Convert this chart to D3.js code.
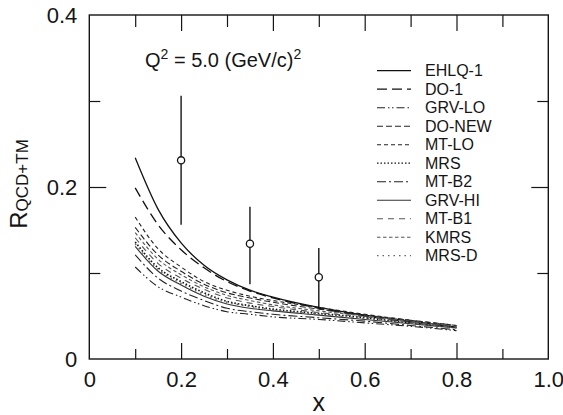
<!DOCTYPE html>
<html>
<head>
<meta charset="utf-8">
<script src="https://cdn.jsdelivr.net/npm/d3@7"></script>
<style>
  body { margin: 0; background: #fff; }
  svg { display: block; font-family: "Liberation Sans", Arial, Helvetica, sans-serif; }
</style>
</head>
<body>
<svg id="chart" width="563" height="415"></svg>
<script>
// curve grid (x) shared by every model curve
var xs = [0.1, 0.15, 0.2, 0.25, 0.3, 0.35, 0.4, 0.5, 0.6, 0.7, 0.8];

// model curves
var ehlq1  = [0.234, 0.174, 0.135, 0.109, 0.092, 0.080, 0.072, 0.060, 0.051, 0.044, 0.037];
var do1    = [0.199, 0.156, 0.127, 0.106, 0.090, 0.079, 0.071, 0.059, 0.050, 0.043, 0.037];
var grvLo  = [0.107, 0.084, 0.072, 0.062, 0.055, 0.052, 0.049, 0.046, 0.042, 0.038, 0.033];
var doNew  = [0.153, 0.121, 0.102, 0.087, 0.077, 0.071, 0.066, 0.058, 0.051, 0.045, 0.039];
var mtLo   = [0.165, 0.128, 0.107, 0.090, 0.080, 0.073, 0.068, 0.060, 0.052, 0.045, 0.039];
var mrs    = [0.136, 0.106, 0.090, 0.077, 0.067, 0.062, 0.058, 0.053, 0.048, 0.042, 0.037];
var mtB2   = [0.121, 0.094, 0.079, 0.068, 0.059, 0.055, 0.052, 0.048, 0.044, 0.039, 0.034];
var grvHi  = [0.131, 0.102, 0.086, 0.073, 0.064, 0.059, 0.056, 0.051, 0.046, 0.041, 0.036];
var mtB1   = [0.141, 0.111, 0.094, 0.081, 0.071, 0.065, 0.061, 0.054, 0.049, 0.043, 0.037];
var kmrs   = [0.147, 0.116, 0.098, 0.084, 0.074, 0.068, 0.063, 0.056, 0.050, 0.044, 0.038];
var mrsD   = [0.134, 0.104, 0.088, 0.075, 0.066, 0.061, 0.057, 0.052, 0.047, 0.042, 0.036];

var names = ["EHLQ-1", "DO-1", "GRV-LO", "DO-NEW", "MT-LO", "MRS", "MT-B2", "GRV-HI", "MT-B1", "KMRS", "MRS-D"];
var values = [ehlq1, do1, grvLo, doNew, mtLo, mrs, mtB2, grvHi, mtB1, kmrs, mrsD];

// measured points with error bars
var pointX  = [0.2, 0.35, 0.5];
var pointY  = [0.231, 0.134, 0.095];
var errLow  = [0.156, 0.087, 0.059];
var errHigh = [0.306, 0.177, 0.129];

var xTicks = [0, 0.2, 0.4, 0.6, 0.8, 1.0];
var yTicks = [0, 0.2, 0.4];

// line styles per series
var dashes = ["none", "10,5", "8,3,1.5,2.5,1.5,3", "6,3", "4,3", "1.5,2", "9,3,2,3", "none", "6,5", "3.5,2.5", "1.5,4"];
var colors = ["#111", "#111", "#222", "#222", "#222", "#111", "#222", "#333", "#555", "#555", "#666"];
var widths = [1.3, 1.3, 1.1, 1.1, 1.1, 1.7, 1.1, 1.1, 1.1, 1.1, 1.5];

var svg = d3.select("#chart");
var pLeft = 89.3, pRight = 548.3, pTop = 15, pBottom = 359;

var x = d3.scaleLinear().domain([0, 1]).range([pLeft, pRight]);
var y = d3.scaleLinear().domain([0, 0.4]).range([pBottom, pTop]);

var ink = "#151515";

// 画坐标刻度 (inward ticks on all four sides)
function tickAxis(axis, pos, vals, size) {
    var g = svg.append("g")
        .attr("transform", pos)
        .call(axis.tickValues(vals).tickSizeInner(-size).tickSizeOuter(0).tickFormat(""));
    g.select(".domain").remove();
    g.selectAll("line").attr("stroke", ink).attr("stroke-width", 1.2);
}
var xMajor = [0.2, 0.4, 0.6, 0.8], xMinor = [0.1, 0.3, 0.5, 0.7, 0.9];
var yMajor = [0.2], yMinor = [0.1, 0.3];
tickAxis(d3.axisBottom(x), "translate(0," + pBottom + ")", xMajor, 16);
tickAxis(d3.axisBottom(x), "translate(0," + pBottom + ")", xMinor, 10);
tickAxis(d3.axisTop(x), "translate(0," + pTop + ")", xMajor, 16);
tickAxis(d3.axisTop(x), "translate(0," + pTop + ")", xMinor, 12);
tickAxis(d3.axisLeft(y), "translate(" + pLeft + ",0)", yMajor, 17);
tickAxis(d3.axisLeft(y), "translate(" + pLeft + ",0)", yMinor, 11);
tickAxis(d3.axisRight(y), "translate(" + pRight + ",0)", yMajor, 17);
tickAxis(d3.axisRight(y), "translate(" + pRight + ",0)", yMinor, 11);

// frame
svg.append("rect")
    .attr("x", pLeft).attr("y", pTop)
    .attr("width", pRight - pLeft).attr("height", pBottom - pTop)
    .attr("fill", "none").attr("stroke", ink).attr("stroke-width", 1.4);

// tick labels
var xl = svg.append("g")
    .attr("transform", "translate(0," + pBottom + ")")
    .call(d3.axisBottom(x).tickValues(xTicks).tickSize(0).tickPadding(12)
        .tickFormat(function (d) { return d === 0 ? "0" : d3.format(".1f")(d); }));
xl.select(".domain").remove();
xl.selectAll("text").attr("font-size", 22).attr("fill", ink).attr("font-family", null);

var yl = svg.append("g")
    .attr("transform", "translate(" + pLeft + ",0)")
    .call(d3.axisLeft(y).tickValues(yTicks).tickSize(0).tickPadding(12)
        .tickFormat(function (d) { return d === 0 ? "0" : d3.format(".1f")(d); }));
yl.select(".domain").remove();
yl.selectAll("text").attr("font-size", 22).attr("fill", ink).attr("font-family", null);

// axis titles
svg.append("text")
    .attr("x", (pLeft + pRight) / 2).attr("y", 411)
    .attr("text-anchor", "middle").attr("font-size", 25).attr("fill", ink)
    .text("x");

var yt = svg.append("text")
    .attr("transform", "translate(27,184) rotate(-90)")
    .attr("text-anchor", "middle").attr("fill", ink);
yt.append("tspan").attr("font-size", 24).text("R");
yt.append("tspan").attr("font-size", 17).attr("dy", 1).text("QCD+TM");

// Q^2 note
var note = svg.append("text")
    .attr("x", 145).attr("y", 67).attr("font-size", 20).attr("fill", ink);
note.append("tspan").text("Q");
note.append("tspan").attr("font-size", 14).attr("dy", -8).text("2");
note.append("tspan").attr("dy", 8).text(" = 5.0 (GeV/c)");
note.append("tspan").attr("font-size", 14).attr("dy", -8).text("2");

// 绘制曲线
var line = d3.line()
    .x(function (d) { return x(d[0]); })
    .y(function (d) { return y(d[1]); })
    .curve(d3.curveMonotoneX);

svg.append("g").selectAll("path")
    .data(values)
    .enter()
    .append("path")
    .attr("d", function (v) { return line(xs.map(function (xx, i) { return [xx, v[i]]; })); })
    .attr("fill", "none")
    .attr("stroke", function (d, i) { return colors[i]; })
    .attr("stroke-width", function (d, i) { return widths[i]; })
    .attr("stroke-dasharray", function (d, i) { return dashes[i]; });

// error bars and points
var pts = svg.append("g").selectAll("g")
    .data(pointX)
    .enter()
    .append("g");
pts.append("line")
    .attr("x1", function (d) { return x(d); })
    .attr("x2", function (d) { return x(d); })
    .attr("y1", function (d, i) { return y(errLow[i]); })
    .attr("y2", function (d, i) { return y(errHigh[i]); })
    .attr("stroke", ink).attr("stroke-width", 1.4);
pts.append("circle")
    .attr("cx", function (d) { return x(d); })
    .attr("cy", function (d, i) { return y(pointY[i]); })
    .attr("r", 3.6)
    .attr("fill", "#fff").attr("stroke", ink).attr("stroke-width", 1.3);

// legend
var lg = svg.append("g").selectAll("g")
    .data(names)
    .enter()
    .append("g")
    .attr("transform", function (d, i) { return "translate(0," + (70.7 + 18.5 * i) + ")"; });
lg.append("line")
    .attr("x1", 377).attr("x2", 411)
    .attr("stroke", function (d, i) { return colors[i]; })
    .attr("stroke-width", function (d, i) { return Math.min(widths[i], 1.3); })
    .attr("stroke-dasharray", function (d, i) { return dashes[i]; });
lg.append("text")
    .attr("x", 425).attr("dy", "0.36em")
    .attr("font-size", 16).attr("fill", ink)
    .text(function (d) { return d; });
</script>
</body>
</html>
